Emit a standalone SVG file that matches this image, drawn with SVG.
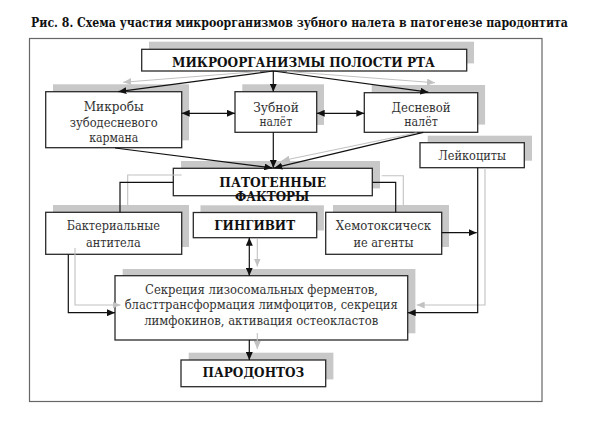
<svg xmlns="http://www.w3.org/2000/svg" width="591" height="441" viewBox="0 0 591 441">
<defs>
<marker id="ab" markerUnits="userSpaceOnUse" markerWidth="9" markerHeight="7" refX="8" refY="3.5" orient="auto-start-reverse"><path d="M0,0 L8,3.5 L0,7 z" fill="#111"/></marker>
<marker id="ag" markerUnits="userSpaceOnUse" markerWidth="9" markerHeight="7" refX="8" refY="3.5" orient="auto-start-reverse"><path d="M0,0 L8,3.5 L0,7 z" fill="#c2c2c2"/></marker>
<style>
.sh{fill:#c8c8c8;stroke:none}
.bx{fill:#fff;stroke:#2a2a2a;stroke-width:1.3}
text{font-family:'DejaVu Serif Condensed','DejaVu Serif',serif}
.t{font-size:12.5px;fill:#333;text-anchor:middle}
.b{font-size:12.5px;font-weight:bold;fill:#111;text-anchor:middle}
.k{fill:none;stroke:#111;stroke-width:1.2}
.g{fill:none;stroke:#c2c2c2;stroke-width:1.1}
</style>
</defs>
<rect width="591" height="441" fill="#fff"/>
<text class="b" x="299.5" y="27" textLength="537" lengthAdjust="spacingAndGlyphs">Рис. 8. Схема участия микроорганизмов зубного налета в патогенезе пародонтита</text>
<rect x="29.5" y="38.5" width="512.5" height="363" fill="none" stroke="#666" stroke-width="1.2"/>

<g id="n-micro">
<rect class="sh" x="149" y="41.7" width="325" height="21.7"/>
<rect class="bx" x="141.7" y="49.3" width="325" height="21.7"/>
<text class="b" x="303.5" y="66.7" textLength="263" lengthAdjust="spacingAndGlyphs">МИКРООРГАНИЗМЫ ПОЛОСТИ РТА</text>
</g>
<g id="n-pocket">
<rect class="sh" x="53" y="84.3" width="136" height="56"/>
<rect class="bx" x="45.7" y="91.7" width="136" height="56"/>
<text class="t" x="113.7" y="111" textLength="60" lengthAdjust="spacingAndGlyphs">Микробы</text>
<text class="t" x="113.7" y="126.5" textLength="88" lengthAdjust="spacingAndGlyphs">зубодесневого</text>
<text class="t" x="113.7" y="141.5" textLength="49" lengthAdjust="spacingAndGlyphs">кармана</text>
</g>
<g id="n-dental">
<rect class="sh" x="242.3" y="84.3" width="81.7" height="40.6"/>
<rect class="bx" x="235" y="91.7" width="81.7" height="40.6"/>
<text class="t" x="276" y="111.5" textLength="45.7" lengthAdjust="spacingAndGlyphs">Зубной</text>
<text class="t" x="275.8" y="126" textLength="32.7" lengthAdjust="spacingAndGlyphs">налёт</text>
</g>
<g id="n-gingival">
<rect class="sh" x="371.7" y="85" width="113.4" height="39.6"/>
<rect class="bx" x="364.3" y="92.7" width="113.4" height="39.6"/>
<text class="t" x="421" y="111.5" textLength="59" lengthAdjust="spacingAndGlyphs">Десневой</text>
<text class="t" x="421" y="126" textLength="33.7" lengthAdjust="spacingAndGlyphs">налёт</text>
</g>
<g id="n-leuko">
<rect class="sh" x="427.7" y="135.7" width="104.3" height="25"/>
<rect class="bx" x="420" y="142.7" width="104.3" height="25"/>
<text class="t" x="472.2" y="160" textLength="67.7" lengthAdjust="spacingAndGlyphs">Лейкоциты</text>
</g>
<g id="n-factors">
<rect class="sh" x="181" y="161" width="199" height="27.4"/>
<rect class="bx" x="173.3" y="168.3" width="199" height="27.4"/>
<text class="b" x="272.7" y="187.3" textLength="106.7" lengthAdjust="spacingAndGlyphs">ПАТОГЕННЫЕ</text>
<text class="b" x="272.2" y="201" textLength="74.3" lengthAdjust="spacingAndGlyphs">ФАКТОРЫ</text>
</g>
<g id="n-antibody">
<rect class="sh" x="53" y="205" width="136" height="42"/>
<rect class="bx" x="45.7" y="212.3" width="136" height="42"/>
<text class="t" x="113.3" y="230" textLength="93.3" lengthAdjust="spacingAndGlyphs">Бактериальные</text>
<text class="t" x="113.3" y="246.7" textLength="54.7" lengthAdjust="spacingAndGlyphs">антитела</text>
</g>
<g id="n-gingivitis">
<rect class="sh" x="200.5" y="205.3" width="123.4" height="25.2"/>
<rect class="bx" x="193.3" y="212.5" width="123.4" height="25.2"/>
<text class="b" x="254.7" y="230" textLength="80.7" lengthAdjust="spacingAndGlyphs">ГИНГИВИТ</text>
</g>
<g id="n-chemo">
<rect class="sh" x="333" y="205" width="116" height="42"/>
<rect class="bx" x="325.7" y="212.3" width="116" height="42"/>
<text class="t" x="383.5" y="230" textLength="95.3" lengthAdjust="spacingAndGlyphs">Хемотоксическ</text>
<text class="t" x="383.5" y="246.7" textLength="60" lengthAdjust="spacingAndGlyphs">ие агенты</text>
</g>
<g id="n-secretion">
<rect class="sh" x="122.7" y="269" width="292.7" height="64.3"/>
<rect class="bx" x="115" y="275.7" width="292.7" height="64.3"/>
<text class="t" x="261.5" y="293.5" textLength="233" lengthAdjust="spacingAndGlyphs">Секреция лизосомальных ферментов,</text>
<text class="t" x="261.2" y="309" textLength="273" lengthAdjust="spacingAndGlyphs">бласттрансформация лимфоцитов, секреция</text>
<text class="t" x="261.2" y="324.5" textLength="234" lengthAdjust="spacingAndGlyphs">лимфокинов, активация остеокластов</text>
</g>
<g id="n-parodontosis">
<rect class="sh" x="188.7" y="352.7" width="144.7" height="26.7"/>
<rect class="bx" x="181" y="360" width="144.7" height="26.7"/>
<text class="b" x="253.4" y="376.7" textLength="101.7" lengthAdjust="spacingAndGlyphs">ПАРОДОНТОЗ</text>
</g>

<g id="connectors">
<path class="g" d="M260,71.5 L123.3,82.2" marker-end="url(#ag)"/>
<path class="g" d="M287,71.5 L435,82.7" marker-end="url(#ag)"/>
<path class="g" d="M416.7,132.8 L281.7,160.7" marker-end="url(#ag)"/>
<path class="g" d="M181.7,175 H127.7 V205"/>
<path class="g" d="M381.7,175.7 H403.3 V205"/>
<path class="g" d="M75,248 V305 H120.5" marker-end="url(#ag)"/>
<path class="g" d="M485,168 V305 H416.7" marker-end="url(#ag)"/>
<path class="g" d="M257.3,239 V266.5" marker-end="url(#ag)"/>
<path class="g" d="M257.3,333 V349" marker-end="url(#ag)"/>

<path class="k" d="M273.3,71 L118.3,91.7" marker-end="url(#ab)"/>
<path class="k" d="M273.3,71 V91.7" marker-end="url(#ab)"/>
<path class="k" d="M273.3,71 L428.3,92.2" marker-end="url(#ab)"/>
<path class="k" d="M181.7,113.3 H235" marker-start="url(#ab)" marker-end="url(#ab)"/>
<path class="k" d="M316.7,113.3 H364.3" marker-start="url(#ab)" marker-end="url(#ab)"/>
<path class="k" d="M115,148 L272.3,167.9" marker-end="url(#ab)"/>
<path class="k" d="M273.3,132.3 V167.9" marker-end="url(#ab)"/>
<path class="k" d="M423.3,132.3 L274.3,167.9" marker-end="url(#ab)"/>
<path class="k" d="M173.3,182.3 H120 V212.3"/>
<path class="k" d="M372.3,182.3 H395.7 V212.3"/>
<path class="k" d="M68.3,254.3 V312.7 H115" marker-end="url(#ab)"/>
<path class="k" d="M477.7,167.7 V312.7 H407.7" marker-end="url(#ab)"/>
<path class="k" d="M441.7,232.7 H476.7" marker-end="url(#ab)"/>
<path class="k" d="M249.3,237.7 V275.7" marker-start="url(#ab)" marker-end="url(#ab)"/>
<path class="k" d="M249.3,340 V360" marker-end="url(#ab)"/>
</g>
</svg>
